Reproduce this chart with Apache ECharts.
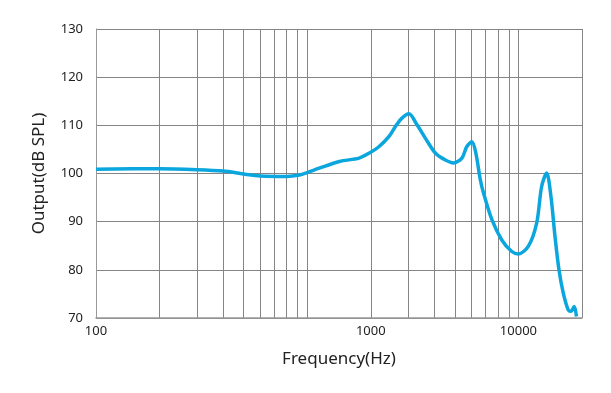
<!DOCTYPE html>
<html>
<head>
<meta charset="utf-8">
<script src="https://cdn.jsdelivr.net/npm/echarts@6/dist/echarts.min.js"></script>
<style>
	html, body { margin: 0; padding: 0; background: #fff; }
	#chart { width: 611px; height: 393px; }
</style>
</head>
<body>
<div id="chart"></div>
<script>
	// 频率响应曲线 (Hz / dB SPL)
	var freqs = [100, 200, 300, 400, 500, 600, 800, 920, 1000, 1140, 1420, 1760, 1960, 2190, 2440, 2620, 2810, 3030,
		3310, 3630, 4050, 4510, 4930, 5400, 5700, 6020, 6290, 6600, 6840, 7490, 8340, 9300, 10000,
		11150, 12200, 12880, 13600, 14260, 14900, 15560, 16300, 17200, 17740, 18370, 18830];
	var levels = [100.9, 101.0, 100.8, 100.5, 99.9, 99.5, 99.4, 99.7, 100.2, 101.1, 102.5, 103.2, 104.2, 105.6, 107.7, 109.8, 111.5, 112.4,
		110.1, 107.3, 104.2, 102.8, 102.2, 103.2, 105.6, 106.6, 104.2, 98.7, 95.9, 90.4, 86.2, 83.8, 83.3,
		84.9, 89.7, 97.3, 100.1, 95.2, 86.9, 80.0, 75.2, 71.7, 71.4, 72.4, 70.3];

	// 竖向网格线 (对数刻度)
	var gridFreqs = [100, 200, 300, 400, 500, 600, 700, 800, 900, 1000,
		2000, 3000, 4000, 5000, 6000, 7000, 8000, 9000, 10000, 20000];
	// 原图中 "1000" 标在 2 kHz 网格线下方
	var tickLabels = ['100', '1000', '10000'];
	var tickLabelFreqs = [100, 2000, 10000];

	var fMin = 100, fMax = 20000;
	var lg = function(v) { return Math.log(v) / Math.LN10; };

	var lineData = freqs.map(function(f, i) { return [lg(f), levels[i]]; });

	var myChart = echarts.init(document.getElementById('chart'));
	var option = {
		animation: false,
		grid: { left: 96, right: 29, top: 29, bottom: 75 },
		xAxis: {
			type: 'value',
			min: lg(fMin), max: lg(fMax),
			name: 'Frequency(Hz)',
			nameLocation: 'middle',
			nameGap: 33,
			nameTextStyle: { fontFamily: 'Noto Sans', fontSize: 17, color: '#222' },
			axisLine: { show: true, lineStyle: { color: '#999', width: 1.5 } },
			axisTick: { show: false, customValues: gridFreqs.map(lg) },
			axisLabel: {
				customValues: tickLabelFreqs.map(lg),
				margin: 7,
				fontFamily: 'Noto Sans', fontSize: 13, color: '#222',
				formatter: function(v) {
					for (var i = 0; i < tickLabelFreqs.length; i++) {
						if (Math.abs(lg(tickLabelFreqs[i]) - v) < 1e-6) return tickLabels[i];
					}
					return '';
				}
			},
			splitLine: { show: true, lineStyle: { color: '#858585', width: 1 } }
		},
		yAxis: {
			type: 'value',
			min: 70, max: 130, interval: 10,
			name: 'Output(dB SPL)',
			nameLocation: 'middle',
			nameGap: 48,
			nameTextStyle: { fontFamily: 'Noto Sans', fontSize: 17, color: '#222' },
			axisLine: { show: true, lineStyle: { color: '#999', width: 1 } },
			axisTick: { show: false },
			axisLabel: { margin: 13, fontFamily: 'Noto Sans', fontSize: 13, color: '#222' },
			splitLine: { show: true, lineStyle: { color: '#858585', width: 1 } }
		},
		series: [{
			type: 'line',
			data: lineData,
			smooth: 0.3,
			symbol: 'none',
			lineStyle: { color: '#0aa6dd', width: 3.5 }
		}]
	};
	myChart.setOption(option);
</script>
</body>
</html>
